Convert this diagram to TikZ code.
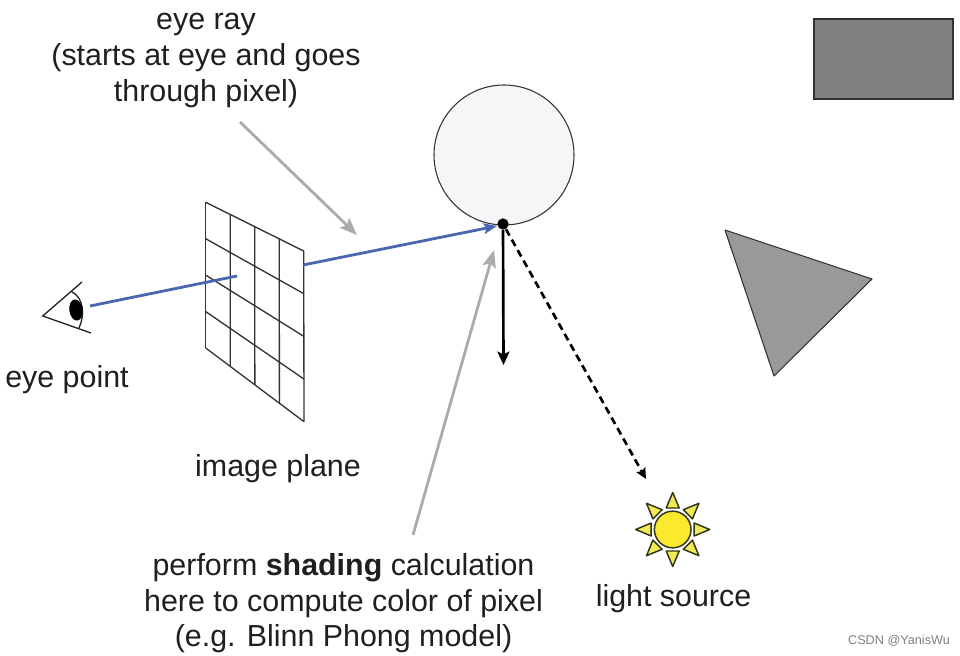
\documentclass[tikz,border=0pt]{standalone}
\usepackage{fontspec}
\setmainfont{Liberation Sans}
\usetikzlibrary{arrows.meta,calc,shapes.geometric}
\definecolor{rayblue}{HTML}{4A66B0}
\definecolor{pointergray}{HTML}{ABABAB}
\definecolor{sunyellow}{HTML}{FBE92E}
\definecolor{rayyellow}{HTML}{EFEA55}
\definecolor{sunedge}{HTML}{33331C}
\definecolor{spherefill}{HTML}{F6F5F8}
\tikzset{
  x=0.75pt,y=-0.75pt,
  label/.style={font=\fontsize{22.8}{26.7}\selectfont,text=black!88,align=center,inner sep=0pt},
  gridline/.style={draw=black!80,line width=1pt},
  eyeline/.style={draw=black!85,line width=1pt},
  blueray/.style={draw=rayblue,line width=2.1pt},
  pointer/.style={draw=pointergray,line width=2.1pt,-{Stealth[length=13pt,width=10pt,inset=2.5pt]}},
  sunray/.style={fill=rayyellow,draw=sunedge,line width=1.1pt,line join=round},
}
\begin{document}
\begin{tikzpicture}
\useasboundingbox (0,0) rectangle (960,656);
\fill[white] (0,0) rectangle (960,656);
% scene objects
\coordinate (cc) at (504,155);
\node[circle,draw=black!80,fill=spherefill,line width=0.8pt,minimum size=105pt,inner sep=0pt] (sphere) at (cc) {};
\node[draw=black!80,fill=black!50,line width=0.8pt,minimum width=104.25pt,minimum height=60pt,inner sep=0pt] (box) at (883.5,59) {};
\coordinate (t1) at (725,230); \coordinate (t2) at (872,279); \coordinate (t3) at (774,376);
\draw[draw=black!80,fill=black!40,line width=0.8pt,line join=round] (t1) -- (t2) -- (t3) -- cycle;
% image plane
\coordinate (tl) at (205.7,202.3); \coordinate (tr) at (303.7,251);
\coordinate (bl) at (205.7,348);   \coordinate (br) at (304,421.7);
\foreach \f in {0,0.25,0.5,0.75,1}{
  \draw[gridline] ($(tl)!\f!(tr)$) -- ($(bl)!\f!(br)$);
  \draw[gridline] ($(tl)!\f!(bl)$) -- ($(tr)!\f!(br)$);
}
% eye
\coordinate (ea) at (42.7,316); \coordinate (eb) at (82,282); \coordinate (ec) at (91,333);
\coordinate (ed) at (71.7,291.7); \coordinate (ee) at (79,328);
\draw[eyeline,line join=miter] (eb) -- (ea) -- (ec);
\draw[eyeline] (ed) .. controls (84,298) and (85,315) .. (ee);
\node[ellipse,fill=black,minimum width=10pt,minimum height=16pt,inner sep=0pt,rotate=8] (pupil) at (76,310) {};
% rays
\coordinate (r1) at (90,306); \coordinate (r2) at (237,276);
\coordinate (r3) at (303,265); \coordinate (hit) at (503,224);
\coordinate (r4) at (497,226);
\draw[blueray] (r1) -- (r2);
\draw[blueray,-{Stealth[length=10pt,width=8pt,inset=2pt]}] (r3) -- (r4);
\node[circle,fill=black,minimum size=8.5pt,inner sep=0pt] (dot) at (hit) {};
\coordinate (down) at (503.5,365);
\draw[black,line width=2pt,-{Stealth[length=10pt,width=9pt,inset=2pt]}] (dot) -- (down);
\coordinate (lightend) at (646,479);
\draw[black,line width=2pt,dash pattern=on 5.5pt off 3.5pt,-{Stealth[length=8pt,width=7.5pt,inset=1.5pt]}] (dot) -- (lightend);
% gray pointers
\coordinate (p1) at (240,122); \coordinate (p2) at (357,235);
\coordinate (p3) at (413,535); \coordinate (p4) at (494,250);
\draw[pointer] (p1) -- (p2);
\draw[pointer] (p3) -- (p4);
% sun
\coordinate (sun) at (672.7,529.5);
\foreach \a in {0,45,...,315}{
  \draw[sunray,shift={(sun)},rotate=\a] (21.5,-6.5) -- (37,0) -- (21.5,6.5) -- cycle;
}
\node[circle,draw=sunedge,fill=sunyellow,line width=1.1pt,minimum size=27.5pt,inner sep=0pt] (sunc) at (sun) {};
% labels
\node[label] (l1) at (206,60.5) {eye ray\\(starts at eye and goes\\through pixel)};
\node[label] (l2) at (67,380) {eye point};
\node[label] (l3) at (278,469) {image plane};
\node[label] (l4) at (343.5,603.5) {perform \textbf{shading} calculation\\here to compute color of pixel\\(e.g. Blinn Phong model)};
\node[label] (l5) at (673.5,599) {light source};
\node[font=\fontsize{9.5}{11}\selectfont,text=black!50,inner sep=0pt] (wm) at (899,641) {CSDN @YanisWu};
\end{tikzpicture}
\end{document}
